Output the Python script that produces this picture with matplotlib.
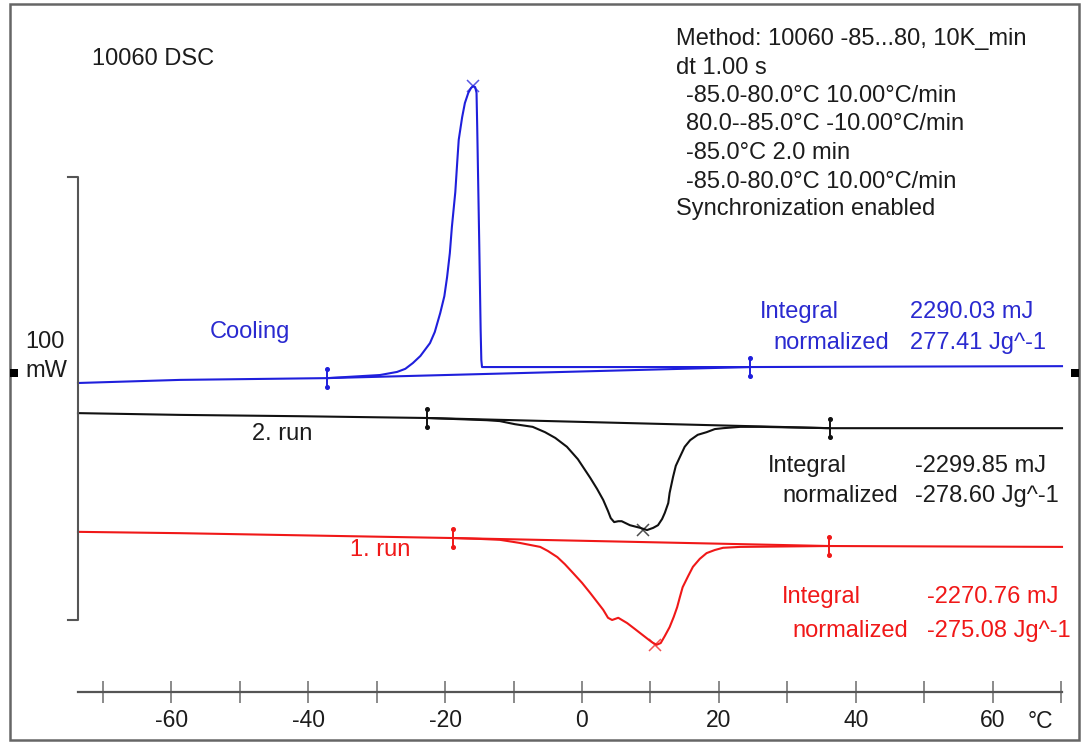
import matplotlib
matplotlib.use("Agg")
import matplotlib.pyplot as plt
from matplotlib.patches import Rectangle
from matplotlib.ticker import MultipleLocator

plt.rcParams['font.family'] = ['Liberation Sans', 'DejaVu Sans']

W, H = 1089, 747

# ---------------- data (temperature in °C, heat flow in mW, shifted per curve) -------------
cool_T = [-73.6, -58.7, -37.2, -29.5, -27.0, -25.8, -24.7, -23.6, -22.2, -21.5, -20.7, -20.1,
          -19.7, -19.3, -19.0, -18.5, -18.2, -18.0, -17.5, -17.1, -16.6, -16.2, -15.9, -15.6,
          -15.4, -15.3, -15.0, -14.8, -14.7, -14.6, 2.6, 24.5, 46.4, 70.1]
cool_Q = [53.5, 54.2, 54.6, 55.3, 56.0, 56.7, 58.0, 59.6, 62.5, 65.0, 69.3, 73.1,
          77.4, 82.8, 88.7, 96.6, 103.8, 108.4, 113.5, 116.7, 119.0, 120.1, 120.5, 120.3,
          119.0, 111.3, 84.7, 65.5, 58.7, 57.1, 57.1, 57.1, 57.2, 57.3]

run2_T = [-73.6, -58.7, -41.2, -22.6, -13.9, -12.0, -9.8, -7.2, -5.4, -3.9, -2.2, -0.6, 1.2,
          2.2, 3.1, 3.8, 4.2, 4.7, 5.3, 5.8, 7.0, 8.5, 9.5, 10.4, 11.1, 11.7, 12.1, 12.6, 12.8,
          13.3, 13.7, 14.3, 15.0, 15.8, 16.9, 18.2, 19.4, 20.6, 23.1, 26.0, 36.2, 70.1]
run2_Q = [46.7, 46.3, 46.0, 45.6, 45.1, 44.9, 44.2, 43.6, 42.4, 41.1, 39.1, 36.3, 32.1,
          29.6, 27.1, 24.6, 23.0, 22.1, 22.3, 22.3, 21.4, 20.8, 20.3, 20.8, 21.4, 22.8, 24.2,
          26.4, 28.7, 32.3, 34.8, 36.8, 39.1, 40.6, 41.8, 42.4, 43.1, 43.3, 43.6, 43.6, 43.3,
          43.3]

run1_T = [-73.6, -58.7, -18.8, -14.9, -12.0, -9.1, -6.1, -5.0, -3.6, -2.5, -1.3, 0.0, 1.2,
          2.2, 3.1, 3.8, 4.4, 5.3, 6.6, 7.7, 9.2, 10.2, 10.9, 11.5, 12.1, 12.8, 13.4, 13.9, 14.3,
          14.7, 15.5, 16.2, 17.2, 18.2, 19.4, 20.6, 23.1, 36.1, 70.1]
run1_Q = [19.9, 19.6, 18.5, 18.3, 18.1, 17.4, 16.5, 15.6, 14.2, 12.6, 10.6, 8.4, 6.1,
          4.1, 2.3, 0.5, 0.0, 0.5, -0.7, -2.0, -3.8, -5.0, -5.6, -5.2, -3.6, -1.6, 0.7, 2.9, 5.2,
          7.4, 9.9, 12.0, 13.8, 15.1, 15.8, 16.3, 16.5, 16.7, 16.5]

# integration limits (T, Q) and peak positions
cool_limits = [(-37.2, 54.6), (24.5, 57.1)]
run2_limits = [(-22.6, 45.6), (36.2, 43.3)]
run1_limits = [(-18.8, 18.5), (36.1, 16.7)]
cool_peak = (-15.9, 120.5)
run2_peak = (8.9, 20.3)
run1_peak = (10.7, -5.6)

x_ticks = [-60, -40, -20, 0, 20, 40, 60]
x_ticklabels = ['-60', '-40', '-20', '0', '20', '40', '60']

method_lines = ["Method: 10060 -85...80, 10K_min",
                "dt 1.00 s",
                "-85.0-80.0°C 10.00°C/min",
                "80.0--85.0°C -10.00°C/min",
                "-85.0°C 2.0 min",
                "-85.0-80.0°C 10.00°C/min",
                "Synchronization enabled"]

BLUE = '#1f1fdc'
BLUE_T = '#2a2ad0'
RED = '#f01818'
BLACK = '#111111'
TXT = '#1c1c1c'
GREY = '#555555'

# ---------------- figure ----------------
fig = plt.figure(figsize=(W / 100, H / 100), dpi=100)
fig.patch.set_facecolor('white')

ax_left, ax_right = 78, 1062
ax_bottom, ax_top = 692, 4
ax = fig.add_axes([ax_left / W, 1 - ax_bottom / H, (ax_right - ax_left) / W, (ax_bottom - ax_top) / H])
ax.set_xlim(-73.6, 70.1)
ax.set_ylim((620 - 692) / 4.43, (620 - 4) / 4.43)
ax.set_facecolor('none')
for s in ['left', 'right', 'top']:
    ax.spines[s].set_visible(False)
ax.spines['bottom'].set_color(GREY)
ax.spines['bottom'].set_linewidth(1.6)
ax.set_yticks([])
ax.set_xticks(x_ticks)
ax.set_xticklabels(x_ticklabels)
ax.xaxis.set_minor_locator(MultipleLocator(10))
ax.tick_params(axis='x', which='both', direction='inout', length=16, width=1.2, color='#777777')
ax.tick_params(axis='x', which='major', labelsize=16.5, labelcolor=TXT, pad=4)

# curves
def draw(T, Q, lim, peak, color):
    ax.plot(T, Q, color=color, lw=1.5, solid_joinstyle='round', clip_on=False)
    (t1, q1), (t2, q2) = lim
    ax.plot([t1, t2], [q1, q2], color=color, lw=1.5, clip_on=False)
    for t, q in lim:
        ax.plot([t, t], [q - 2.1, q + 2.1], color=color, lw=1.4, clip_on=False)
        ax.plot([t, t], [q - 2.1, q + 2.1], ls='none', marker='o', ms=2.6, color=color, clip_on=False)
    ax.plot([peak[0]], [peak[1]], marker='x', ms=8, mew=1.1, color=color, alpha=0.75, clip_on=False)

draw(cool_T, cool_Q, cool_limits, cool_peak, BLUE)
draw(run2_T, run2_Q, run2_limits, run2_peak, BLACK)
draw(run1_T, run1_Q, run1_limits, run1_peak, RED)

# 100 mW scale bar
ax.plot([-75.0, -73.6, -73.6, -75.0], [100, 100, 0, 0], color=GREY, lw=1.5, clip_on=False)

# ---------------- texts ----------------
def ftext(x, y, s, **kw):
    kw.setdefault('fontsize', 17)
    kw.setdefault('color', TXT)
    fig.text(x / W, 1 - y / H, s, va='baseline', **kw)

ftext(92, 65, "10060 DSC")
bases = [45, 73.5, 102, 130.5, 159, 187.5, 215]
xs = [676, 676, 686, 686, 686, 686, 676]
for s, x, y in zip(method_lines, xs, bases):
    ftext(x, y, s)

ftext(210, 338, "Cooling", color=BLUE_T)
ftext(760, 318, "Integral", color=BLUE_T)
ftext(910, 318, "2290.03 mJ", color=BLUE_T)
ftext(773, 349, "normalized", color=BLUE_T)
ftext(910, 349, "277.41 Jg^-1", color=BLUE_T)

ftext(252, 440, "2. run")
ftext(768, 472, "Integral")
ftext(915, 472, "-2299.85 mJ")
ftext(782, 502, "normalized")
ftext(915, 502, "-278.60 Jg^-1")

ftext(350, 556, "1. run", color=RED)
ftext(782, 603, "Integral", color=RED)
ftext(927, 603, "-2270.76 mJ", color=RED)
ftext(792, 637, "normalized", color=RED)
ftext(927, 637, "-275.08 Jg^-1", color=RED)

ftext(65, 348, "100", ha='right')
ftext(67, 377, "mW", ha='right')
ftext(1028, 728, "°C", fontsize=16.5)

# frame and end squares
fig.add_artist(Rectangle((10 / W, 1 - 740 / H), (1079 - 10) / W, (740 - 4) / H,
                         transform=fig.transFigure, fill=False, ec='#666666', lw=1.8))
for x in (14, 1075):
    fig.add_artist(Rectangle(((x - 4) / W, 1 - (373 + 4) / H), 8 / W, 8 / H,
                             transform=fig.transFigure, fc='black', ec='none'))

fig.savefig('out.png', dpi=100)
